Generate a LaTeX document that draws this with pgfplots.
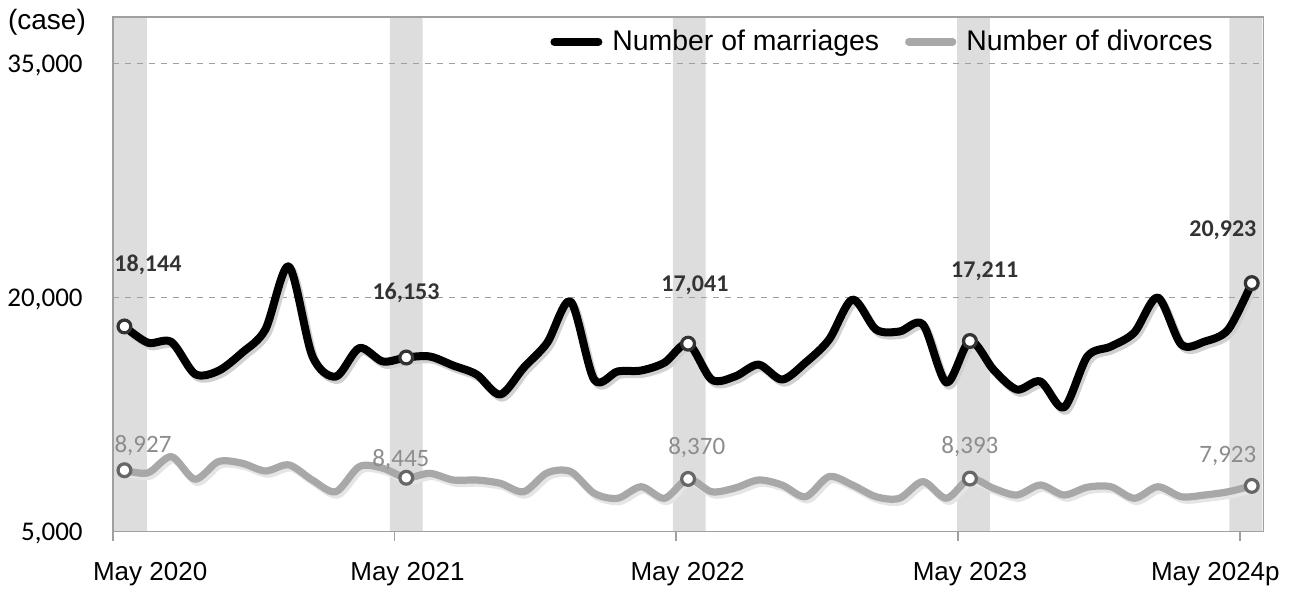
\documentclass[border=0pt]{standalone}
\usepackage{fontspec}
\setmainfont{Liberation Sans}
\newfontfamily\calibri{Carlito}
\usepackage{pgfplots}
\pgfplotsset{compat=1.18}

\definecolor{band}{HTML}{DDDDDD}
\definecolor{frame}{HTML}{A0A0A0}
\definecolor{divline}{HTML}{A8A8A8}
\definecolor{mkline}{HTML}{666666}
\definecolor{marlab}{HTML}{333333}
\definecolor{divlab}{HTML}{8C8C8C}

% month index 0 = May 2020 ... 48 = May 2024p
\pgfplotstableread{
m v
0 18144
1 17100
2 17150
3 15100
4 15300
5 16450
6 17950
7 21990
8 16250
9 14930
10 16760
11 15900
12 16153
13 16220
14 15640
15 15060
16 13780
17 15500
18 17100
19 19740
20 14740
21 15260
22 15320
23 15830
24 17041
25 14740
26 14940
27 15700
28 14740
29 15830
30 17300
31 19870
32 17950
33 17820
34 18270
35 14550
36 17211
37 15380
38 14100
39 14620
40 12950
41 16220
42 16860
43 17760
44 20000
45 16990
46 17180
47 17950
48 20923
}\marriages

\pgfplotstableread{
m v
0 8927
1 8760
2 9800
3 8350
4 9480
5 9380
6 8880
7 9270
8 8300
9 7550
10 9160
11 9060
12 8445
13 8730
14 8300
15 8300
16 8090
17 7550
18 8760
19 8840
20 7450
21 7130
22 7870
23 7130
24 8370
25 7550
26 7790
27 8300
28 7980
29 7230
30 8520
31 7980
32 7230
33 7130
34 8200
35 7130
36 8393
37 7770
38 7340
39 7980
40 7340
41 7840
42 7870
43 7130
44 7870
45 7230
46 7340
47 7550
48 7923
}\divorces

\begin{document}
\begin{tikzpicture}
\begin{axis}[
    set layers,
    scale only axis,
    width=575.4pt, height=257.4pt,
    xmin=-0.5, xmax=48.5,
    ymin=5000, ymax=38000,
    axis line style={frame, line width=0.9pt},
    xtick={1.095,12.05,23.98,36,46.45},
    xticklabels={May 2020,May 2021,May 2022,May 2023,May 2024p},
    xticklabel style={font=\fontsize{13}{15}\selectfont, anchor=base, yshift=-24.25pt},
    xtick pos=bottom,
    major tick length=0pt,
    extra x ticks={-0.5,11.5,23.5,35.5,47.5},
    extra x tick labels={},
    extra x tick style={major tick length=4.5pt, tick align=outside,
        tick style={frame, line width=0.9pt}, grid=none},
    ytick={5000,20000,35000},
    scaled y ticks=false,
    yticklabel style={font=\calibri\fontsize{13.5}{15}\selectfont, anchor=base east,
        inner sep=0pt, xshift=-14.85pt, yshift=-4.3pt,
        /pgf/number format/.cd, fixed, 1000 sep={,}, assume math mode=true},
    ymajorgrids=true,
    grid style={dashed, frame, line width=0.6pt},
    legend columns=2,
    legend style={at={(rel axis cs:0.380,0.951)}, anchor=west, draw=none, fill=none,
        inner sep=0pt, font=\fontsize{14.2}{16}\selectfont,
        nodes={inner sep=0pt},
        /tikz/every odd column/.append style={column sep=5pt},
        /tikz/every even column/.append style={column sep=13pt}},
    legend image code/.code={\draw[#1, line cap=round] (2pt,0pt) -- (24pt,0pt);},
]
% May highlight bands
\addplot[ybar, bar width=1.4, bar shift=0pt, fill=band, draw=none,
    forget plot, on layer=axis background]
    coordinates {(0.25,38000) (12,38000) (24.05,38000) (36.15,38000) (47.75,38000)};

% soft shadows
\addplot[forget plot, black!18, line width=4pt, smooth, tension=0.5,
    line join=round, xshift=1.2pt, yshift=-1.6pt] table[x=m, y=v] {\marriages};
\addplot[forget plot, black!10, line width=3.6pt, smooth, tension=0.5,
    line join=round, xshift=1.2pt, yshift=-1.6pt] table[x=m, y=v] {\divorces};

\addplot[black, line width=4pt, smooth, tension=0.5, line join=round]
    table[x=m, y=v] {\marriages};
\addlegendentry{Number of marriages}
\addplot[divline, line width=3.6pt, smooth, tension=0.5, line join=round]
    table[x=m, y=v] {\divorces};
\addlegendentry{Number of divorces}

% highlighted May points
\addplot[forget plot, only marks, mark=*, mark size=3.2pt,
    mark options={fill=white, draw=marlab, line width=1.6pt}]
    coordinates {(0,18144) (12,16153) (24,17041) (36,17211) (48,20923)};
\addplot[forget plot, only marks, mark=*, mark size=3.2pt,
    mark options={fill=white, draw=mkline, line width=1.6pt}]
    coordinates {(0,8927) (12,8445) (24,8370) (36,8393) (48,7923)};

% data labels
\begin{scope}[every node/.style={font=\calibri\bfseries\fontsize{12}{14}\selectfont, text=marlab}]
\node at (axis cs:1.0,22101) {18,144};
\node at (axis cs:11.99,20305) {16,153};
\node at (axis cs:24.29,20754) {17,041};
\node at (axis cs:36.63,21652) {17,211};
\node at (axis cs:46.77,24283) {20,923};
\end{scope}
\begin{scope}[every node/.style={font=\calibri\fontsize{12.5}{14}\selectfont, text=divlab}]
\node at (axis cs:0.79,10487) {8,927};
\node at (axis cs:11.77,9588) {8,445};
\node at (axis cs:24.37,10358) {8,370};
\node at (axis cs:36.0,10422) {8,393};
\node at (axis cs:46.98,9845) {7,923};
\end{scope}
\end{axis}
\node[font=\fontsize{14}{16}\selectfont] at (-32.85pt,254.75pt) {(case)};
\pgfresetboundingbox
\path[use as bounding box] (-56.35pt,-29.75pt) rectangle (589.65pt,265.75pt);
\end{tikzpicture}
\end{document}
